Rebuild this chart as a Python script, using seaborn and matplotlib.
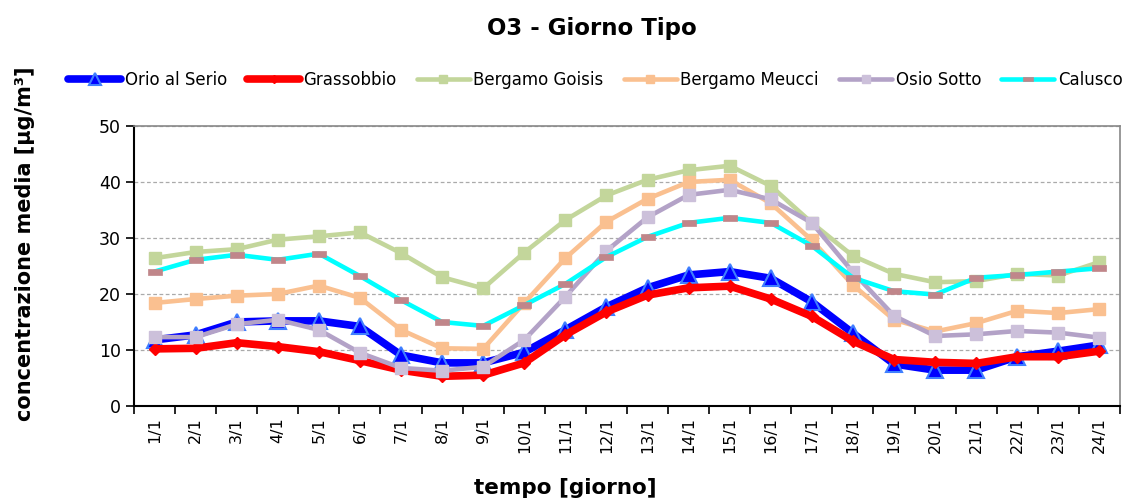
import matplotlib
matplotlib.use("Agg")
import matplotlib.pyplot as plt
import seaborn as sns
import pandas as pd
import numpy as np
from matplotlib.path import Path

days = [f"{i}/1" for i in range(1, 25)]

orio = [11.8, 12.7, 15.0, 15.2, 15.2, 14.2, 9.1, 7.7, 7.7, 9.6, 13.6, 17.7,
        21.1, 23.4, 24.0, 22.8, 18.6, 13.0, 7.5, 6.4, 6.4, 8.8, 9.8, 10.9]
grassobbio = [10.2, 10.3, 11.3, 10.6, 9.7, 8.1, 6.4, 5.3, 5.5, 7.7, 12.7, 16.8,
              19.8, 21.1, 21.4, 19.1, 16.0, 11.6, 8.3, 7.8, 7.6, 8.8, 8.8, 9.8]
goisis = [26.4, 27.5, 28.0, 29.7, 30.3, 31.0, 27.3, 23.0, 21.0, 27.4, 33.2, 37.6,
          40.4, 42.1, 42.9, 39.3, 32.7, 26.8, 23.6, 22.1, 22.3, 23.6, 23.3, 25.7]
meucci = [18.4, 19.1, 19.7, 20.0, 21.5, 19.3, 13.6, 10.3, 10.2, 18.4, 26.4, 32.9,
          37.0, 40.0, 40.4, 36.2, 29.6, 21.6, 15.4, 13.3, 14.8, 17.0, 16.6, 17.3]
osio = [12.3, 12.3, 14.6, 15.4, 13.6, 9.5, 6.8, 6.3, 7.0, 11.8, 19.5, 27.7,
        33.7, 37.7, 38.6, 36.9, 32.7, 23.9, 16.1, 12.5, 12.8, 13.4, 13.1, 12.2]
calusco = [24.0, 26.1, 27.0, 26.1, 27.2, 23.2, 18.9, 15.0, 14.3, 18.0, 21.8, 26.6,
           30.2, 32.7, 33.6, 32.7, 28.6, 22.9, 20.5, 19.9, 22.9, 23.4, 24.0, 24.6]

series_names = ["Orio al Serio", "Grassobbio", "Bergamo Goisis", "Bergamo Meucci",
                "Osio Sotto", "Calusco"]
series_vals = [orio, grassobbio, goisis, meucci, osio, calusco]

rect = Path([(-1, -0.45), (1, -0.45), (1, 0.45), (-1, 0.45), (-1, -0.45)],
            [Path.MOVETO, Path.LINETO, Path.LINETO, Path.LINETO, Path.CLOSEPOLY])

styles = {
    "Orio al Serio": dict(color="#0000FF", lw=5.5, marker="^", ms=12, mfc="#0000FF", mec="#3F7FFF", mew=1.5),
    "Grassobbio": dict(color="#FF0000", lw=5.5, marker="D", ms=6, mfc="#FF0000", mec="#FF0000", mew=1),
    "Bergamo Goisis": dict(color="#C3D69B", lw=3.3, marker="s", ms=8, mfc="#C3D69B", mec="#C3D69B", mew=1),
    "Bergamo Meucci": dict(color="#FAC090", lw=3.3, marker="s", ms=8, mfc="#FAC090", mec="#FAC090", mew=1),
    "Osio Sotto": dict(color="#B3A2C7", lw=3.3, marker="s", ms=8, mfc="#CCC0DA", mec="#CCC0DA", mew=1),
    "Calusco": dict(color="#00FFFF", lw=3.3, marker=rect, ms=10, mfc="#C0868A", mec="#C0868A", mew=0.5),
}

rows = []
for name, vals in zip(series_names, series_vals):
    for i, v in enumerate(vals):
        rows.append({"x": i, "day": days[i], "serie": name, "val": v})
df = pd.DataFrame(rows)

sns.set_style("white")
plt.rcParams['font.family'] = ['DejaVu Sans']
plt.rcParams['text.color'] = 'black'
plt.rcParams['xtick.color'] = 'black'
plt.rcParams['ytick.color'] = 'black'
plt.rcParams['axes.labelcolor'] = 'black'

fig = plt.figure(figsize=(11.23, 4.99), dpi=100)
ax = fig.add_axes([0.1193, 0.1864, 0.878, 0.5611])

handles = []
for name in series_names:
    st = styles[name]
    sub = df[df.serie == name]
    sns.lineplot(data=sub, x="x", y="val", ax=ax, color=st["color"], linewidth=st["lw"],
                 marker=st["marker"], markersize=st["ms"], markerfacecolor=st["mfc"],
                 markeredgecolor=st["mec"], markeredgewidth=st["mew"], legend=False,
                 solid_joinstyle="round")
    h, = ax.plot([], [], color=st["color"], linewidth=st["lw"], marker=st["marker"],
                 markersize=st["ms"] * 0.75, markerfacecolor=st["mfc"],
                 markeredgecolor=st["mec"], markeredgewidth=st["mew"], label=name)
    handles.append(h)

ax.set_xlim(-0.5, 23.5)
ax.set_ylim(0, 50)
ax.set_yticks([0, 10, 20, 30, 40, 50])
ax.set_xticks(range(24))
ax.set_xticklabels(days, rotation=90, fontsize=11.5)
ax.set_xticks(np.arange(-0.5, 24, 1), minor=True)
ax.tick_params(axis="x", which="major", length=0, pad=8)
ax.tick_params(axis="x", which="minor", length=6, width=1.2, color="black", direction="out", bottom=True)
ax.tick_params(axis="y", which="major", length=6, width=1.2, color="black", direction="out", left=True, labelsize=12.5)

for y in [10, 20, 30, 40, 50]:
    ax.axhline(y, color="#AAAAAA", lw=0.9, ls=(0, (3, 2)), zorder=0)

for s in ["left", "bottom"]:
    ax.spines[s].set_color("black")
    ax.spines[s].set_linewidth(1.5)
for s in ["top", "right"]:
    ax.spines[s].set_color("#888888")
    ax.spines[s].set_linewidth(1.2)

ax.set_xlabel("tempo [giorno]", fontsize=15.5, fontweight="bold")
ax.set_ylabel("concentrazione media [µg/m³]", fontsize=15, fontweight="bold")
ax.xaxis.set_label_coords((565 - 134) / 986, (406 - 488) / 280)
ax.yaxis.set_label_coords((25 - 134) / 986, (406 - 244) / 280)
ax.xaxis.label.set_va("center")
ax.yaxis.label.set_va("center")

fig.text(592 / 1123, 1 - 28 / 499, "O3 - Giorno Tipo", ha="center", va="center",
         fontsize=16.5, fontweight="bold")

leg = fig.legend(handles=handles, loc="center", bbox_to_anchor=(0.53, 0.84), ncol=6,
                 frameon=False, handlelength=3.2, handletextpad=0.2,
                 columnspacing=1.2,
                 prop={"family": ["Liberation Sans Narrow", "DejaVu Sans"], "size": 12})

fig.savefig("out.png", dpi=100)
